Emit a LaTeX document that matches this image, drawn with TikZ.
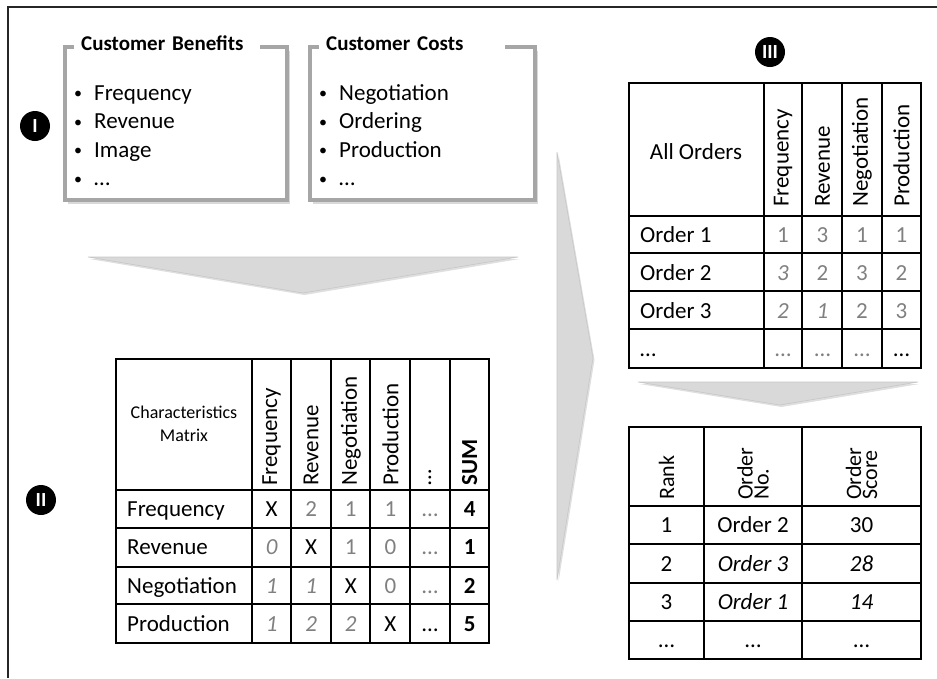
\documentclass[tikz,border=0pt]{standalone}
\usepackage{fontspec}
\setmainfont{Carlito}
\usetikzlibrary{shadows}

\newcommand{\cellsize}{\fontsize{23}{27}\selectfont}
\newcommand{\dotmark}{\makebox[20pt][l]{\raisebox{1.5pt}{\fontsize{16}{16}\selectfont\textbullet}}}

\begin{document}
\begin{tikzpicture}[
  x=1pt, y=-1pt,
  font=\cellsize,
  frame/.style={line width=1.4pt, black!85},
  listbox/.style={draw=black!35, line width=3.5pt, fill=white,
    drop shadow={shadow xshift=3pt, shadow yshift=-4pt, opacity=0.3}},
  boxtitle/.style={fill=white, anchor=base west, inner xsep=7pt, inner ysep=3pt,
    text width=172pt, align=left, font=\fontsize{21}{25}\selectfont\bfseries},
  item/.style={anchor=base west, inner sep=0pt},
  badge/.style={circle, fill=black, text=white, minimum size=30pt, inner sep=0pt,
    font=\fontsize{20}{20}\selectfont\bfseries},
  chevron/.style={fill=black!15, draw=black!22, line width=0.6pt,
    drop shadow={shadow xshift=1.5pt, shadow yshift=-2pt, opacity=0.25}},
  grid/.style={line width=1.1pt},
  colhead/.style={rotate=90, anchor=west, inner sep=0pt},
  rowlab/.style={anchor=base west, inner sep=0pt},
  val/.style={anchor=base, inner sep=0pt},
  soft/.style={val, text=black!50},
  softit/.style={soft, font=\cellsize\itshape},
  it/.style={val, font=\cellsize\itshape},
  sum/.style={val, font=\cellsize\bfseries}]

  \useasboundingbox (0,0) rectangle (937,678);
  \draw[frame] (8,678) -- (8,7) -- (937,7);

  % the three grey arrows
  \path[chevron] (88,257) -- (518,257) -- (303,293) -- cycle;
  \path[chevron] (557,152) -- (593,358) -- (557,580) -- cycle;
  \path[chevron] (638,382) -- (918,382) -- (780,405) -- cycle;

  % step I: benefits and costs
  \node[listbox, minimum width=222pt, minimum height=153pt] (benefits) at (176,123.5) {};
  \node[listbox, minimum width=225pt, minimum height=153pt] (costs) at (422.5,123.5) {};
  \node[boxtitle] (benefits-title) at (74,50) {Customer Benefits};
  \node[boxtitle] (costs-title) at (319,50) {Customer Costs};
  \foreach \t [count=\i] in {Frequency,Revenue,Image,\dots}
    \node[item] (benefit-\i) at (74,{71.5+28.5*\i}) {\dotmark\t};
  \foreach \t [count=\i] in {Negotiation,Ordering,Production,\dots}
    \node[item] (cost-\i) at (319,{71.5+28.5*\i}) {\dotmark\t};

  % step II: characteristics matrix
  \draw[grid] (116,359) rectangle (489,643);
  \foreach \x in {252,291,331,370,410,450} \draw[grid] (\x,359) -- (\x,643);
  \foreach \y in {490,528,567,604} \draw[grid] (116,\y) -- (489,\y);
  \node[font=\fontsize{18}{23}\selectfont, align=center] (cm-title) at (184,424) {Characteristics\\Matrix};
  \foreach \t [count=\c] in {Frequency,Revenue,Negotiation,Production,\dots}
    \node[colhead] (cm-h\c) at ({232+39.6*\c},486) {\t};
  \node[colhead, font=\cellsize\bfseries] (cm-h6) at (469.6,486) {SUM};
  \foreach \t [count=\r] in {Frequency,Revenue,Negotiation,Production}
    \node[rowlab] (cm-r\r) at (127,{478+38.4*\r}) {\t};
  \foreach \s/\t [count=\c] in {val/X,soft/2,soft/1,soft/1,soft/\dots,sum/4}
    \node[\s] (cm-1-\c) at ({232+39.6*\c},516.4) {\t};
  \foreach \s/\t [count=\c] in {softit/0,val/X,soft/1,soft/0,soft/\dots,sum/1}
    \node[\s] (cm-2-\c) at ({232+39.6*\c},554.8) {\t};
  \foreach \s/\t [count=\c] in {softit/1,softit/1,val/X,soft/0,soft/\dots,sum/2}
    \node[\s] (cm-3-\c) at ({232+39.6*\c},593.2) {\t};
  \foreach \s/\t [count=\c] in {softit/1,softit/2,softit/2,val/X,val/\dots,sum/5}
    \node[\s] (cm-4-\c) at ({232+39.6*\c},631.6) {\t};

  % step III: all orders
  \draw[grid] (629,83) rectangle (921,368);
  \foreach \x in {764,802,842,882} \draw[grid] (\x,83) -- (\x,368);
  \foreach \y in {216,253,291,329} \draw[grid] (629,\y) -- (921,\y);
  \node (ao-title) at (696,152) {All Orders};
  \foreach \t [count=\c] in {Frequency,Revenue,Negotiation,Production}
    \node[colhead] (ao-h\c) at ({743.5+39.5*\c},207) {\t};
  \foreach \t [count=\r] in {Order 1,Order 2,Order 3,\dots}
    \node[rowlab] (ao-r\r) at (640,{204+38*\r}) {\t};
  \foreach \s/\t [count=\c] in {soft/1,soft/3,soft/1,soft/1}
    \node[\s] (ao-1-\c) at ({743.5+39.5*\c},242) {\t};
  \foreach \s/\t [count=\c] in {softit/3,soft/2,soft/3,soft/2}
    \node[\s] (ao-2-\c) at ({743.5+39.5*\c},280) {\t};
  \foreach \s/\t [count=\c] in {softit/2,softit/1,soft/2,soft/3}
    \node[\s] (ao-3-\c) at ({743.5+39.5*\c},318) {\t};
  \foreach \s/\t [count=\c] in {soft/\dots,soft/\dots,soft/\dots,val/\dots}
    \node[\s] (ao-4-\c) at ({743.5+39.5*\c},356) {\t};

  % ranking
  \draw[grid] (629,427) rectangle (921,659);
  \foreach \x in {704,802} \draw[grid] (\x,427) -- (\x,659);
  \foreach \y in {506,544,583,621} \draw[grid] (629,\y) -- (921,\y);
  \foreach \x/\t [count=\c] in {666.5/Rank,753/Order\\No.,861.5/Order\\Score}
    \node[colhead, align=left, font=\fontsize{22}{16}\selectfont] (rk-h\c) at (\x,500) {\t};
  \foreach \x/\s/\t [count=\c] in {666.5/val/1,753/val/Order 2,861.5/val/30}
    \node[\s] (rk-1-\c) at (\x,532.5) {\t};
  \foreach \x/\s/\t [count=\c] in {666.5/val/2,753/it/Order 3,861.5/it/28}
    \node[\s] (rk-2-\c) at (\x,571) {\t};
  \foreach \x/\s/\t [count=\c] in {666.5/val/3,753/it/Order 1,861.5/it/14}
    \node[\s] (rk-3-\c) at (\x,609.5) {\t};
  \foreach \x/\s/\t [count=\c] in {666.5/val/\dots,753/val/\dots,861.5/val/\dots}
    \node[\s] (rk-4-\c) at (\x,647.5) {\t};

  % step badges
  \node[badge] (step1) at (35,126) {I};
  \node[badge] (step2) at (41,500) {II};
  \node[badge] (step3) at (770,52) {III};
\end{tikzpicture}
\end{document}
